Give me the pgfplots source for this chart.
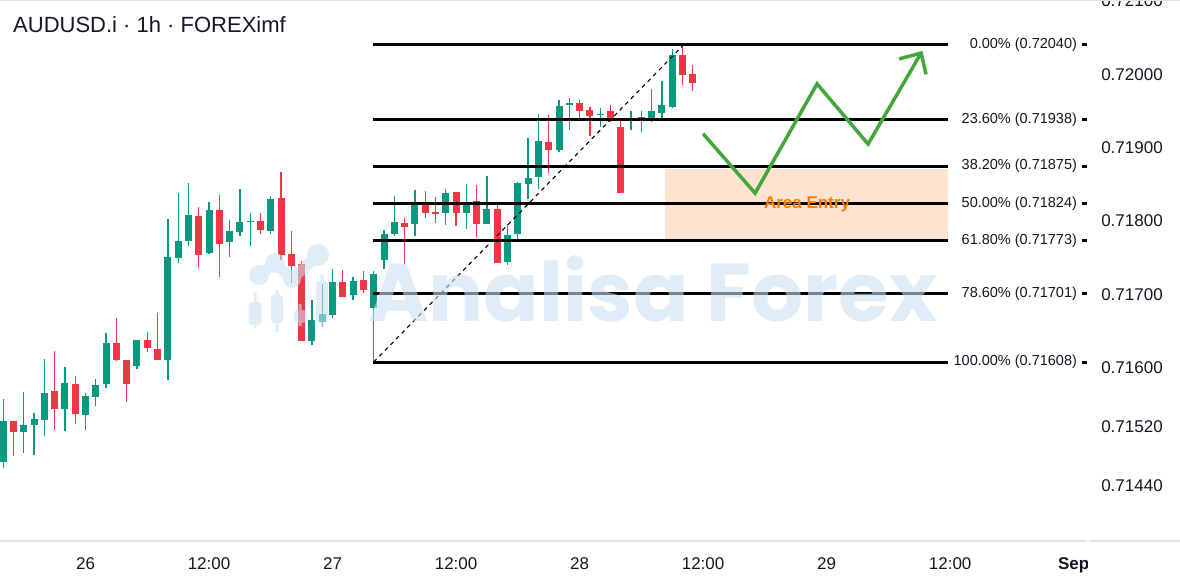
\documentclass[border=0pt]{standalone}
\usepackage{pgfplots}
\pgfplotsset{compat=1.18}
\usepackage{pgfplotstable}
\usepackage{fontspec}
\setmainfont{Liberation Sans}
\newfontfamily\wmfont{Poppins}
\definecolor{cgreen}{HTML}{089981}
\definecolor{cred}{HTML}{F23645}
\definecolor{agreen}{RGB}{67,167,60}
\definecolor{boxfill}{RGB}{252,228,209}
\definecolor{aorange}{RGB}{245,124,0}
\definecolor{sepc}{HTML}{E0E3EB}
\definecolor{txt}{HTML}{131722}
\definecolor{wm}{RGB}{203,224,241}
\newcommand\axfont{\fontsize{17bp}{20bp}\selectfont}
\newcommand\fibfont{\fontsize{14.5bp}{17bp}\selectfont}

% hour (0 = 26 Aug 00:00), open, high, low, close
\pgfplotstableread{
x o h l c
-8 0.71472 0.71558 0.71464 0.71528
-6 0.71513 0.71567 0.71484 0.71522
-5 0.71522 0.71538 0.71481 0.71530
-4 0.71529 0.71612 0.71507 0.71566
-2 0.71544 0.71601 0.71514 0.71579
0 0.71536 0.71566 0.71515 0.71562
1 0.71560 0.71585 0.71548 0.71577
2 0.71578 0.71648 0.71573 0.71634
5 0.71603 0.71638 0.71598 0.71638
8 0.71611 0.71803 0.71583 0.71751
9 0.71750 0.71838 0.71743 0.71773
10 0.71773 0.71852 0.71766 0.71808
12 0.71757 0.71826 0.71755 0.71815
14 0.71772 0.71802 0.71751 0.71787
15 0.71785 0.71844 0.71780 0.71799
16 0.71799 0.71811 0.71766 0.71800
18 0.71787 0.71834 0.71782 0.71830
22 0.71637 0.71692 0.71631 0.71665
23 0.71662 0.71714 0.71656 0.71673
24 0.71672 0.71735 0.71668 0.71717
26 0.71699 0.71724 0.71692 0.71718
28 0.71682 0.71732 0.71608 0.71728
29 0.71747 0.71788 0.71735 0.71782
30 0.71782 0.71834 0.71780 0.71799
32 0.71796 0.71842 0.71780 0.71825
35 0.71811 0.71844 0.71795 0.71838
37 0.71811 0.71851 0.71789 0.71826
39 0.71796 0.71861 0.71796 0.71816
41 0.71744 0.71796 0.71740 0.71781
42 0.71782 0.71853 0.71772 0.71852
43 0.71851 0.71913 0.71830 0.71859
44 0.71860 0.71946 0.71844 0.71909
46 0.71897 0.71965 0.71894 0.71957
47 0.71958 0.71968 0.71924 0.71961
50 0.71945 0.71954 0.71928 0.71946
53 0.71939 0.71950 0.71924 0.71940
54 0.71939 0.71950 0.71921 0.71942
55 0.71939 0.71980 0.71935 0.71950
56 0.71947 0.71991 0.71936 0.71958
57 0.71956 0.72035 0.71954 0.72026
}\greentab

\pgfplotstableread{
x o h l c
-7 0.71528 0.71528 0.71480 0.71513
-3 0.71568 0.71623 0.71515 0.71544
-1 0.71578 0.71589 0.71523 0.71537
3 0.71634 0.71668 0.71609 0.71611
4 0.71611 0.71611 0.71553 0.71578
6 0.71638 0.71649 0.71622 0.71627
7 0.71626 0.71675 0.71611 0.71611
11 0.71807 0.71819 0.71736 0.71754
13 0.71815 0.71836 0.71724 0.71769
17 0.71800 0.71811 0.71782 0.71788
19 0.71831 0.71867 0.71747 0.71754
20 0.71755 0.71787 0.71716 0.71739
21 0.71742 0.71746 0.71637 0.71637
25 0.71717 0.71733 0.71697 0.71697
27 0.71720 0.71732 0.71702 0.71706
31 0.71797 0.71804 0.71742 0.71792
33 0.71825 0.71841 0.71804 0.71811
34 0.71812 0.71833 0.71797 0.71810
36 0.71840 0.71840 0.71793 0.71811
38 0.71827 0.71849 0.71778 0.71796
40 0.71816 0.71822 0.71743 0.71743
45 0.71908 0.71945 0.71866 0.71897
48 0.71961 0.71965 0.71939 0.71950
49 0.71951 0.71955 0.71916 0.71943
51 0.71950 0.71958 0.71935 0.71938
52 0.71928 0.71938 0.71838 0.71838
58 0.72026 0.72040 0.71985 0.71999
59 0.72000 0.72013 0.71977 0.71988
}\redtab

\begin{document}
\begin{tikzpicture}
\begin{axis}[
  at={(0,40bp)}, anchor=south west,
  width=1088bp, height=541bp, scale only axis,
  xmin=-8.308, xmax=97.40, ymin=0.713641, ymax=0.721013,
  axis line style={draw=none},
  major tick length=0pt,
  xtick={0,12,24,36,48,60,72,84,96},
  xticklabels={26,12:00,27,12:00,28,12:00,29,12:00,\textbf{Sep}},
  xticklabel style={anchor=base, yshift=-28bp, font=\axfont, text=txt},
  ytick={0.7144,0.7152,0.716,0.717,0.718,0.719,0.720,0.721},
  yticklabels={0.71440,0.71520,0.71600,0.71700,0.71800,0.71900,0.72000,0.72100},
  yticklabel pos=right, ytick pos=right,
  yticklabel style={anchor=west, inner sep=0pt, xshift=13bp, font=\axfont, text=txt},
  clip=true,
]
% wicks
\addplot[forget plot, draw=none, mark=none, error bars/.cd, y dir=plus, y explicit, error mark=none,
  error bar style={draw=cgreen, line width=1.3bp}]
  table[x=x, y=l, y error expr=\thisrow{h}-\thisrow{l}] {\greentab};
\addplot[forget plot, draw=none, mark=none, error bars/.cd, y dir=plus, y explicit, error mark=none,
  error bar style={draw=cred, line width=1.3bp}]
  table[x=x, y=l, y error expr=\thisrow{h}-\thisrow{l}] {\redtab};
% bodies
\addplot[forget plot, draw=none, mark=none, error bars/.cd, y dir=plus, y explicit, error mark=none,
  error bar style={draw=cgreen, line width=7bp}]
  table[x=x, y=o, y error expr=\thisrow{c}-\thisrow{o}] {\greentab};
\addplot[forget plot, draw=none, mark=none, error bars/.cd, y dir=plus, y explicit, error mark=none,
  error bar style={draw=cred, line width=7bp}]
  table[x=x, y=c, y error expr=\thisrow{o}-\thisrow{c}] {\redtab};
% entry area
\addplot[fill=boxfill, draw=none] coordinates {(56.31,0.71775) (83.80,0.71775) (83.80,0.71871) (56.31,0.71871)} -- cycle;
% fibonacci levels
\addplot[black, line width=3bp] coordinates {(27.94,0.72040) (83.80,0.72040)};
\addplot[black, line width=3bp] coordinates {(27.94,0.71938) (83.80,0.71938)};
\addplot[black, line width=3bp] coordinates {(27.94,0.71875) (83.80,0.71875)};
\addplot[black, line width=3bp] coordinates {(27.94,0.71824) (83.80,0.71824)};
\addplot[black, line width=3bp] coordinates {(27.94,0.71773) (83.80,0.71773)};
\addplot[black, line width=3bp] coordinates {(27.94,0.71701) (83.80,0.71701)};
\addplot[black, line width=3bp] coordinates {(27.94,0.71608) (83.80,0.71608)};
\addplot[only marks, mark=-, mark size=2.5bp, mark options={line width=3bp, draw=black}]
  coordinates {(97.05,0.72040) (97.05,0.71938) (97.05,0.71875) (97.05,0.71824) (97.05,0.71773) (97.05,0.71701) (97.05,0.71608)};
% trend line
\addplot[black, line width=1.1bp, dash pattern=on 4bp off 4bp] coordinates {(28,0.71608) (58.1,0.72040)};
% projected path
\addplot[agreen, line width=3.5bp, line join=miter] coordinates {(60.0,0.71919) (65.05,0.71838) (71.07,0.71987) (76.03,0.71905) (81.18,0.72029)};
\addplot[agreen, line width=3.5bp, line join=miter] coordinates {(79.04,0.72021) (81.18,0.72029) (81.66,0.72000)};
% level labels
\node[anchor=east, inner sep=0pt, font=\fibfont, text=txt] at (axis cs:96.34,0.72040) {0.00\% (0.72040)};
\node[anchor=east, inner sep=0pt, font=\fibfont, text=txt] at (axis cs:96.34,0.71938) {23.60\% (0.71938)};
\node[anchor=east, inner sep=0pt, font=\fibfont, text=txt] at (axis cs:96.34,0.71875) {38.20\% (0.71875)};
\node[anchor=east, inner sep=0pt, font=\fibfont, text=txt] at (axis cs:96.34,0.71824) {50.00\% (0.71824)};
\node[anchor=east, inner sep=0pt, font=\fibfont, text=txt] at (axis cs:96.34,0.71773) {61.80\% (0.71773)};
\node[anchor=east, inner sep=0pt, font=\fibfont, text=txt] at (axis cs:96.34,0.71701) {78.60\% (0.71701)};
\node[anchor=east, inner sep=0pt, font=\fibfont, text=txt] at (axis cs:96.34,0.71608) {100.00\% (0.71608)};
\end{axis}
% Area Entry label
\node[anchor=base, inner sep=0pt, font=\bfseries\fontsize{17bp}{20bp}\selectfont, text=aorange] at (807bp,372bp) {Area Entry};
% frame lines
\fill[white] (1088bp,0) rectangle (1180bp,40bp);
\draw[sepc, line width=1.5bp] (0,40bp) -- (1087bp,40bp);
\draw[sepc, line width=1.5bp] (1089bp,40bp) -- (1180bp,40bp);
\draw[sepc, line width=1.5bp] (0,580.5bp) -- (1180bp,580.5bp);
% title
\node[anchor=base west, inner sep=0pt, font=\fontsize{22bp}{26bp}\selectfont, text=txt] at (13bp,548bp) {AUDUSD.i · 1h · FOREXimf};
% watermark
\begin{scope}[transparency group, opacity=0.59]
  \node[anchor=base west, inner sep=0pt, font=\wmfont\bfseries\fontsize{82bp}{90bp}\selectfont, text=wm] at (368bp,259bp) {Analisa Forex};
  \fill[wm, rounded corners=3bp] (248.5bp,256bp) rectangle (261.5bp,279bp);
  \fill[wm] (253.5bp,253bp) rectangle (256.5bp,289bp);
  \fill[wm, rounded corners=3bp] (271bp,258bp) rectangle (283bp,286bp);
  \fill[wm] (275.5bp,249bp) rectangle (278.5bp,291bp);
  \fill[wm, rounded corners=3bp] (294bp,258bp) rectangle (306bp,271bp);
  \fill[wm] (298.5bp,255bp) rectangle (301.5bp,277bp);
  \fill[wm, rounded corners=3bp] (316bp,259bp) rectangle (328bp,300bp);
  \fill[wm] (320.5bp,254bp) rectangle (323.5bp,306bp);
  \draw[wm, line width=11bp, line join=round] (259bp,306bp) -- (275bp,318bp) -- (292bp,302bp) -- (318bp,326bp);
  \fill[wm] (259bp,306bp) circle (10bp);
  \fill[wm] (275bp,318bp) circle (10bp);
  \fill[wm] (292bp,302bp) circle (9bp);
  \fill[wm] (318bp,326bp) circle (11bp);
\end{scope}
\pgfresetboundingbox
\path[use as bounding box] (0,0) rectangle (1180bp,581bp);
\end{tikzpicture}
\end{document}
